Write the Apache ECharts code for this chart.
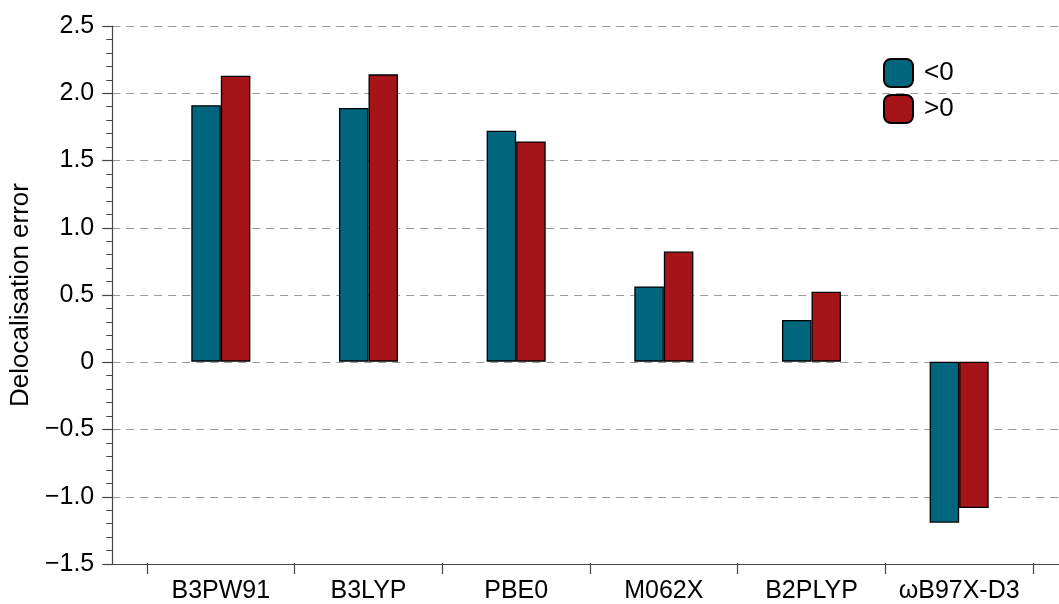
<!DOCTYPE html>
<html>
<head>
<meta charset="utf-8">
<script src="https://cdn.jsdelivr.net/npm/echarts@6/dist/echarts.min.js"></script>
<style>html,body{margin:0;padding:0;background:#fff}#c{width:1059px;height:604px}</style>
</head>
<body>
<div id="c"></div>
<script>
const categories = ['B3PW91', 'B3LYP', 'PBE0', 'M062X', 'B2PLYP', 'ωB97X-D3'];
const seriesNames = ['<0', '>0'];
const negValues = [1.91, 1.89, 1.72, 0.56, 0.31, -1.20];
const posValues = [2.13, 2.14, 1.64, 0.82, 0.52, -1.09];
const yTicks = [-1.5, -1.0, -0.5, 0, 0.5, 1.0, 1.5, 2.0, 2.5];

const font = 'Liberation Sans, Arial, Helvetica, sans-serif';
const yMin = yTicks[0], yMax = yTicks[yTicks.length - 1];
const fmt = v => {
  if (Math.abs(v) < 1e-9) return '0';
  return (v < 0 ? '\u2212' : '') + Math.abs(v).toFixed(1);
};

const chart = echarts.init(document.getElementById('c'), null, {renderer: 'canvas'});
chart.setOption({
  animation: false,
  backgroundColor: '#fff',
  legend: {
    orient: 'vertical',
    left: 883, top: 58, padding: 0,
    itemWidth: 29, itemHeight: 28, itemGap: 6,
    icon: 'roundRect',
    textStyle: {fontFamily: font, fontSize: 26, color: '#000', padding: [0, 0, 0, 6]},
    data: seriesNames
  },
  grid: [
    {left: 110, right: 0, top: 26, bottom: 40},
    {left: 147, right: 26, top: 26, bottom: 40}
  ],
  xAxis: [
    {gridIndex: 0, type: 'value', min: 0, max: 1,
     axisLine: {show: true, onZero: false, lineStyle: {color: '#444', width: 1.2}},
     axisTick: {show: false}, axisLabel: {show: false}, splitLine: {show: false}},
    {gridIndex: 1, type: 'category', data: categories,
     axisLine: {show: false, onZero: false},
     axisTick: {show: true, interval: 0, length: 11, inside: false, lineStyle: {color: '#444', width: 1.2}},
     axisLabel: {interval: 0, hideOverlap: false, fontFamily: font, fontSize: 25, color: '#000', margin: 16},
     splitLine: {show: false}}
  ],
  yAxis: [
    {gridIndex: 0, type: 'value', min: yMin, max: yMax, interval: 0.5,
     name: 'Delocalisation error', nameLocation: 'middle', nameGap: 74,
     nameTextStyle: {fontFamily: font, fontSize: 26, color: '#000'},
     axisLine: {show: true, onZero: false, lineStyle: {color: '#444', width: 1.2}},
     axisTick: {show: true, length: 10, lineStyle: {color: '#444', width: 1.2}},
     minorTick: {show: true, splitNumber: 5, length: 6, lineStyle: {color: '#444', width: 1}},
     axisLabel: {fontFamily: font, fontSize: 25, color: '#000', margin: 18, formatter: fmt},
     splitLine: {show: true, lineStyle: {color: '#999', type: [8, 6], width: 1.2}}},
    {gridIndex: 1, type: 'value', min: yMin, max: yMax, interval: 0.5,
     axisLine: {show: false}, axisTick: {show: false}, axisLabel: {show: false}, splitLine: {show: false}}
  ],
  series: [
    {name: seriesNames[0], type: 'bar', xAxisIndex: 1, yAxisIndex: 1, data: negValues,
     barGap: '0%', barCategoryGap: '60%',
     itemStyle: {color: '#00667E', borderColor: '#000', borderWidth: 1.3}},
    {name: seriesNames[1], type: 'bar', xAxisIndex: 1, yAxisIndex: 1, data: posValues,
     barGap: '0%', barCategoryGap: '60%',
     itemStyle: {color: '#A51419', borderColor: '#000', borderWidth: 1.3}}
  ]
});
</script>
</body>
</html>
